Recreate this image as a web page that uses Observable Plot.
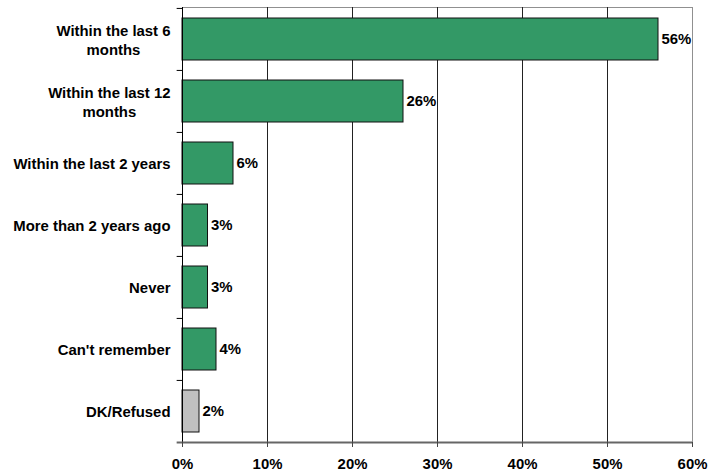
<!DOCTYPE html>
<html>
<head>
<meta charset="utf-8">
<script src="https://cdn.jsdelivr.net/npm/d3@7"></script>
<script src="https://cdn.jsdelivr.net/npm/@observablehq/plot@0.6"></script>
<style>
  html, body { margin: 0; padding: 0; background: #fff; }
</style>
</head>
<body>
<div id="chart"></div>
<script>
const categories = [
  "Within the last 6\nmonths",
  "Within the last 12\nmonths",
  "Within the last 2 years",
  "More than 2 years ago",
  "Never",
  "Can't remember",
  "DK/Refused"
];
const values = [56, 26, 6, 3, 3, 4, 2];
const xTicks = [0, 10, 20, 30, 40, 50, 60];
const gridTicks = [10, 20, 30, 40, 50];

const data = categories.map((c, i) => ({category: c, value: values[i]}));

const W = 718, H = 474;
const mTop = 7, mBottom = 32, mLeft = 182, mRight = 26;
const bw = (H - mTop - mBottom) / categories.length;
const green = "#339966", gray = "#c0c0c0";
const lastCat = categories[categories.length - 1];

const plot = Plot.plot({
  width: W,
  height: H,
  marginTop: mTop,
  marginBottom: mBottom,
  marginLeft: mLeft,
  marginRight: mRight,
  style: {fontFamily: "'Liberation Sans', Arial, sans-serif", fontSize: "14.9px", fontWeight: "bold", color: "#000", background: "#fff"},
  x: {domain: [0, 60], label: null},
  y: {domain: categories, padding: 0, label: null},
  marks: [
    Plot.frame({stroke: "#909090"}),
    Plot.ruleX(gridTicks, {stroke: "#222", strokeWidth: 1}),
    Plot.barX(data, {
      x: "value", y: "category",
      fill: d => d.category === "DK/Refused" ? gray : green,
      stroke: "#111", strokeWidth: 1,
      insetTop: 10, insetBottom: 10
    }),
    Plot.text(data, {
      x: "value", y: "category",
      text: d => d.value + "%",
      textAnchor: "start", dx: 3, fill: "#000"
    }),
    Plot.ruleX([0], {stroke: "#000", strokeWidth: 1}),
    Plot.ruleY(categories, {y: d => d, dy: -bw / 2, x1: -0.63, x2: 0, stroke: "#000", strokeWidth: 1}),
    Plot.ruleY([lastCat], {y: d => d, dy: bw / 2, x1: -0.63, x2: 60, stroke: "#666", strokeWidth: 2}),
    Plot.axisX({ticks: xTicks, tickSize: 5, tickPadding: 11, tickFormat: d => d + "%", stroke: "#444", fill: "#000"}),
    Plot.axisY({tickSize: 0, tickPadding: 12, lineHeight: 1.25, fill: "#000"})
  ]
});

document.getElementById("chart").appendChild(plot);

// center multi-line category labels (as in the original)
plot.querySelectorAll('g[aria-label="y-axis tick label"] text').forEach(t => {
  const spans = t.querySelectorAll("tspan");
  if (spans.length > 1) {
    let max = 0;
    spans.forEach(s => { max = Math.max(max, s.getComputedTextLength()); });
    t.setAttribute("text-anchor", "middle");
    spans.forEach(s => s.setAttribute("x", -max / 2));
  }
});
</script>
</body>
</html>
